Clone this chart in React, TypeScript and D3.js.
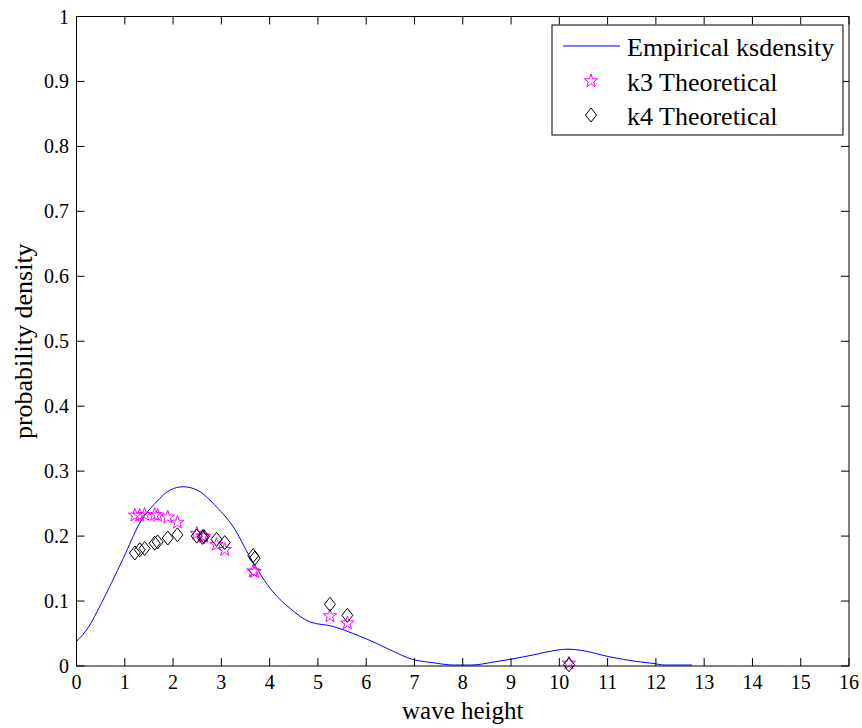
import React, { useEffect, useRef } from "react";
import * as d3 from "d3";

const curveX = [0, 0.25, 0.49, 0.97, 1.31, 1.66, 1.94, 2.21, 2.52, 2.9, 3.25, 3.59, 4.07, 4.42, 4.83, 5.31, 5.73, 6.21, 6.49, 6.97, 7.39, 7.8, 8.18, 8.63, 9.04, 9.46, 9.91, 10.18, 10.46, 11.05, 11.6, 11.94, 12.18, 12.75];
const curveY = [0.038, 0.06, 0.093, 0.166, 0.22, 0.253, 0.271, 0.276, 0.27, 0.245, 0.214, 0.168, 0.114, 0.089, 0.068, 0.061, 0.05, 0.035, 0.025, 0.01, 0.005, 0.0015, 0.0015, 0.006, 0.011, 0.017, 0.024, 0.026, 0.024, 0.014, 0.007, 0.004, 0.0015, 0.0015];

const pointX = [1.21, 1.31, 1.41, 1.62, 1.68, 1.89, 2.09, 2.49, 2.61, 2.64, 2.9, 3.07, 3.66, 3.69, 5.25, 5.61, 10.2];
const k3Y = [0.232, 0.232, 0.233, 0.233, 0.232, 0.229, 0.221, 0.204, 0.2, 0.199, 0.187, 0.179, 0.146, 0.145, 0.077, 0.066, 0.004];
const k4Y = [0.174, 0.179, 0.181, 0.189, 0.191, 0.197, 0.202, 0.2, 0.198, 0.199, 0.195, 0.19, 0.17, 0.166, 0.095, 0.078, 0.002];

const xTicks = d3.range(0, 17, 1);
const yTicks = [0, 0.1, 0.2, 0.3, 0.4, 0.5, 0.6, 0.7, 0.8, 0.9, 1];
const legendLabels = ["Empirical ksdensity", "k3 Theoretical", "k4 Theoretical"];

const W = 862, H = 728;
const L = 76.5, R = 849, T = 16.5, B = 666;
const FONT = "'Liberation Serif', 'Times New Roman', serif";

function starPath(cx: number, cy: number, r: number) {
  const pts: string[] = [];
  const ri = r * 0.4;
  for (let i = 0; i < 10; i++) {
    const a = -Math.PI / 2 + (i * Math.PI) / 5;
    const rr = i % 2 === 0 ? r : ri;
    pts.push(`${cx + rr * Math.cos(a)},${cy + rr * Math.sin(a)}`);
  }
  return "M" + pts.join("L") + "Z";
}
function diamondPath(cx: number, cy: number, rx: number, ry: number) {
  return `M${cx},${cy - ry}L${cx + rx},${cy}L${cx},${cy + ry}L${cx - rx},${cy}Z`;
}

export default function App() {
  const ref = useRef<SVGSVGElement>(null);
  useEffect(() => {
    const svg = d3.select(ref.current);
    svg.selectAll("*").remove();
    const x = d3.scaleLinear().domain([0, 16]).range([L, R]);
    const y = d3.scaleLinear().domain([0, 1]).range([B, T]);

    svg.append("rect").attr("width", W).attr("height", H).attr("fill", "#fff");

    const line = d3.line<number>().x((_, i) => x(curveX[i])).y((d) => y(d)).curve(d3.curveMonotoneX);
    svg.append("path").attr("d", line(curveY)).attr("fill", "none").attr("stroke", "#0000ff").attr("stroke-width", 1);

    svg.append("g").selectAll("path").data(k3Y).join("path")
      .attr("d", (d, i) => starPath(x(pointX[i]), y(d), 7))
      .attr("fill", "none").attr("stroke", "#ff00ff").attr("stroke-width", 1);
    svg.append("g").selectAll("path").data(k4Y).join("path")
      .attr("d", (d, i) => diamondPath(x(pointX[i]), y(d), 5.5, 7))
      .attr("fill", "none").attr("stroke", "#000").attr("stroke-width", 1);

    svg.append("rect").attr("x", L).attr("y", T).attr("width", R - L).attr("height", B - T)
      .attr("fill", "none").attr("stroke", "#000").attr("stroke-width", 1);

    const tl = 8;
    const g = svg.append("g");
    xTicks.forEach((t) => {
      const px = x(t);
      g.append("line").attr("x1", px).attr("x2", px).attr("y1", B).attr("y2", B - tl).attr("stroke", "#000");
      g.append("line").attr("x1", px).attr("x2", px).attr("y1", T).attr("y2", T + tl).attr("stroke", "#000");
      g.append("text").attr("x", px).attr("y", 689).attr("text-anchor", "middle")
        .attr("font-family", FONT).attr("font-size", 20).text(String(t));
    });
    yTicks.forEach((t) => {
      const py = y(t);
      g.append("line").attr("x1", L).attr("x2", L + tl).attr("y1", py).attr("y2", py).attr("stroke", "#000");
      g.append("line").attr("x1", R).attr("x2", R - tl).attr("y1", py).attr("y2", py).attr("stroke", "#000");
      g.append("text").attr("x", 69).attr("y", py + 7).attr("text-anchor", "end")
        .attr("font-family", FONT).attr("font-size", 20).text(d3.format("")(t));
    });

    svg.append("text").attr("x", (L + R) / 2).attr("y", 719).attr("text-anchor", "middle")
      .attr("font-family", FONT).attr("font-size", 25).text("wave height");
    svg.append("text").attr("transform", `translate(32,${(T + B) / 2}) rotate(-90)`).attr("text-anchor", "middle")
      .attr("font-family", FONT).attr("font-size", 26).text("probability density");

    const lg = svg.append("g");
    lg.append("rect").attr("x", 552).attr("y", 25).attr("width", 291).attr("height", 110)
      .attr("fill", "#fff").attr("stroke", "#000").attr("stroke-width", 1);
    const rows = [46, 81, 115];
    lg.append("line").attr("x1", 563).attr("x2", 620).attr("y1", rows[0]).attr("y2", rows[0]).attr("stroke", "#0000ff");
    lg.append("path").attr("d", starPath(591, rows[1], 7)).attr("fill", "none").attr("stroke", "#ff00ff");
    lg.append("path").attr("d", diamondPath(591, rows[2], 5.5, 7)).attr("fill", "none").attr("stroke", "#000");
    legendLabels.forEach((s, i) => {
      lg.append("text").attr("x", 627).attr("y", rows[i] + 10).attr("font-family", FONT).attr("font-size", 26).text(s);
    });
  }, []);
  return <svg ref={ref} width={W} height={H} style={{ display: "block", position: "absolute", left: 0, top: 0 }} />;
}
